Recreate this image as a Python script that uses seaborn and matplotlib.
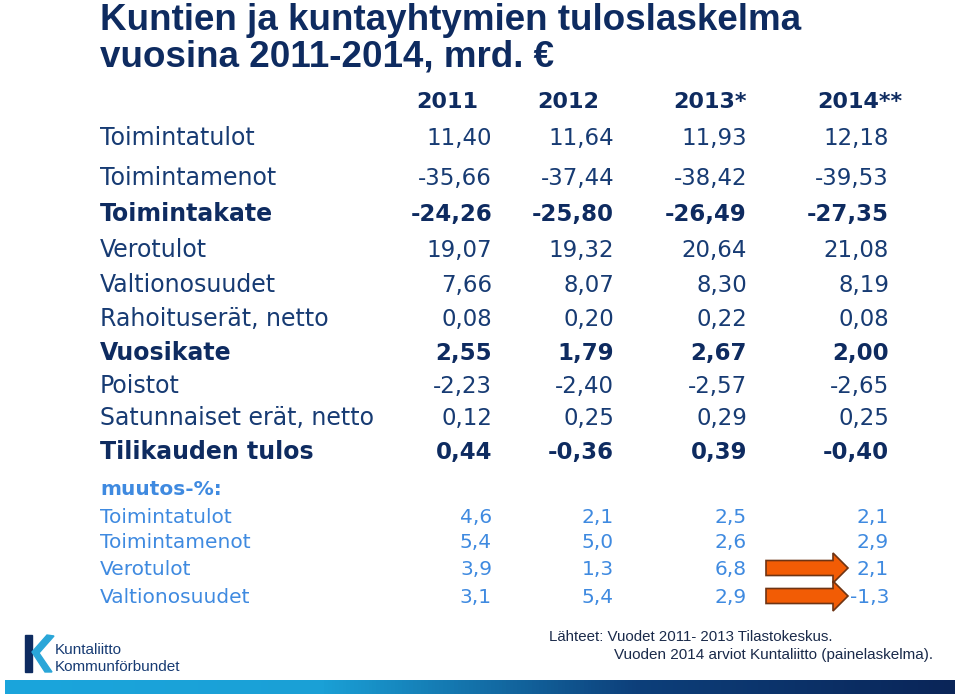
import numpy as np
import matplotlib
matplotlib.use("Agg")
import matplotlib.pyplot as plt
import seaborn as sns
from matplotlib.patches import FancyArrow, Rectangle, Polygon

# data
years = ["2011", "2012", "2013*", "2014**"]

rows = ["Toimintatulot", "Toimintamenot", "Toimintakate", "Verotulot",
        "Valtionosuudet", "Rahoituserät, netto", "Vuosikate", "Poistot",
        "Satunnaiset erät, netto", "Tilikauden tulos"]
toimintatulot = [11.40, 11.64, 11.93, 12.18]
toimintamenot = [-35.66, -37.44, -38.42, -39.53]
toimintakate = [-24.26, -25.80, -26.49, -27.35]
verotulot = [19.07, 19.32, 20.64, 21.08]
valtionosuudet = [7.66, 8.07, 8.30, 8.19]
rahoituserat = [0.08, 0.20, 0.22, 0.08]
vuosikate = [2.55, 1.79, 2.67, 2.00]
poistot = [-2.23, -2.40, -2.57, -2.65]
satunnaiset = [0.12, 0.25, 0.29, 0.25]
tilikauden_tulos = [0.44, -0.36, 0.39, -0.40]
bold_rows = ["Toimintakate", "Vuosikate", "Tilikauden tulos"]

muutos_rows = ["Toimintatulot", "Toimintamenot", "Verotulot", "Valtionosuudet"]
muutos_toimintatulot = [4.6, 2.1, 2.5, 2.1]
muutos_toimintamenot = [5.4, 5.0, 2.6, 2.9]
muutos_verotulot = [3.9, 1.3, 6.8, 2.1]
muutos_valtionosuudet = [3.1, 5.4, 2.9, -1.3]
arrow_rows = ["Verotulot", "Valtionosuudet"]

main_vals = [toimintatulot, toimintamenot, toimintakate, verotulot, valtionosuudet,
             rahoituserat, vuosikate, poistot, satunnaiset, tilikauden_tulos]
muutos_vals = [muutos_toimintatulot, muutos_toimintamenot,
               muutos_verotulot, muutos_valtionosuudet]

def fi(v, d):
    return f"{v:.{d}f}".replace(".", ",")

def base(y, size):
    # baseline so that the cap height is centred on y
    return y + 0.5 * 0.73 * size * 100 / 72

sns.set_theme(style="white")
plt.rcParams["font.family"] = ["DejaVu Sans"]

navy = "#0e2b60"
navy_txt = "#173b73"
light = "#3f8ae0"
lib = ["Liberation Sans", "DejaVu Sans"]

fig = plt.figure(figsize=(9.6, 6.96), dpi=100)
ax = fig.add_axes([0, 0, 1, 1])
ax.set_xlim(0, 960)
ax.set_ylim(696, 0)
ax.axis("off")

# title
ax.text(100, 30, "Kuntien ja kuntayhtymien tuloslaskelma", fontsize=26.5,
        fontweight="bold", color=navy, family=lib, va="baseline")
ax.text(100, 66, "vuosina 2011-2014, mrd. €", fontsize=26.5,
        fontweight="bold", color=navy, family=lib, va="baseline")

# header
fs_h = 16
year_x = [447, 568, 710, 860]
for x, y in zip(year_x, years):
    ax.text(x, base(100, fs_h), y, fontsize=fs_h, fontweight="bold", color=navy,
            ha="center", va="baseline")

fs = 16.5
fs_lab = 17
col_right = [492, 614, 747, 889]
row_y = [137, 177, 213, 249, 284, 318, 352, 385, 417, 451]
for name, vals, y in zip(rows, main_vals, row_y):
    b = name in bold_rows
    c = navy if b else navy_txt
    w = "bold" if b else "normal"
    ax.text(100, base(y, fs), name, fontsize=fs_lab, fontweight=w, color=c,
            va="baseline")
    for x, v in zip(col_right, vals):
        ax.text(x, base(y, fs), fi(v, 2), fontsize=fs, fontweight=w, color=c,
                ha="right", va="baseline")

ax.text(100, base(488, 14.5), "muutos-%:", fontsize=14.5, fontweight="bold",
        color=light, va="baseline")
fs_m = 14.5
muutos_y = [516, 541, 568, 596]
for name, vals, y in zip(muutos_rows, muutos_vals, muutos_y):
    ax.text(100, base(y, fs_m), name, fontsize=fs_m, color=light, va="baseline")
    for x, v in zip(col_right, vals):
        ax.text(x, base(y, fs_m), fi(v, 1), fontsize=fs_m, color=light,
                ha="right", va="baseline")
    if name in arrow_rows:
        x0 = col_right[2] + 19
        x1 = col_right[3] - 41
        ax.add_patch(FancyArrow(x0, y, x1 - x0, 0, width=15, head_width=30,
                                head_length=15, length_includes_head=True,
                                facecolor="#f25c05", edgecolor="#6e3414",
                                linewidth=1.2, zorder=3))

# logo
ax.add_patch(Rectangle((25, 635), 7, 37, color="#0e2b60", zorder=2))
ax.add_patch(Polygon([(32, 652), (47, 635), (54, 636), (39, 653), (52, 672),
                      (45, 672)], closed=True, color="#2aa6d8", zorder=2))
ax.text(55, 650, "Kuntaliitto", fontsize=11, color=navy_txt, family=lib,
        va="center")
ax.text(55, 667, "Kommunförbundet", fontsize=11, color=navy_txt, family=lib,
        va="center")

# source
ax.text(549, 637, "Lähteet: Vuodet 2011- 2013 Tilastokeskus.", fontsize=10.85,
        color="#1a2a4a", family=lib, va="center")
ax.text(614, 655, "Vuoden 2014 arviot Kuntaliitto (painelaskelma).", fontsize=10.95,
        color="#1a2a4a", family=lib, va="center")

# gradient bar
cmap = sns.blend_palette(["#1aa5dc", "#1aa0d6", "#0d3f7a", "#0a2558"], as_cmap=True)
grad = np.linspace(0, 1, 256).reshape(1, -1)
ax.imshow(grad, cmap=cmap, extent=(5, 955, 694, 680), aspect="auto", zorder=1)
ax.set_xlim(0, 960)
ax.set_ylim(696, 0)

fig.savefig("out.png", dpi=100)
